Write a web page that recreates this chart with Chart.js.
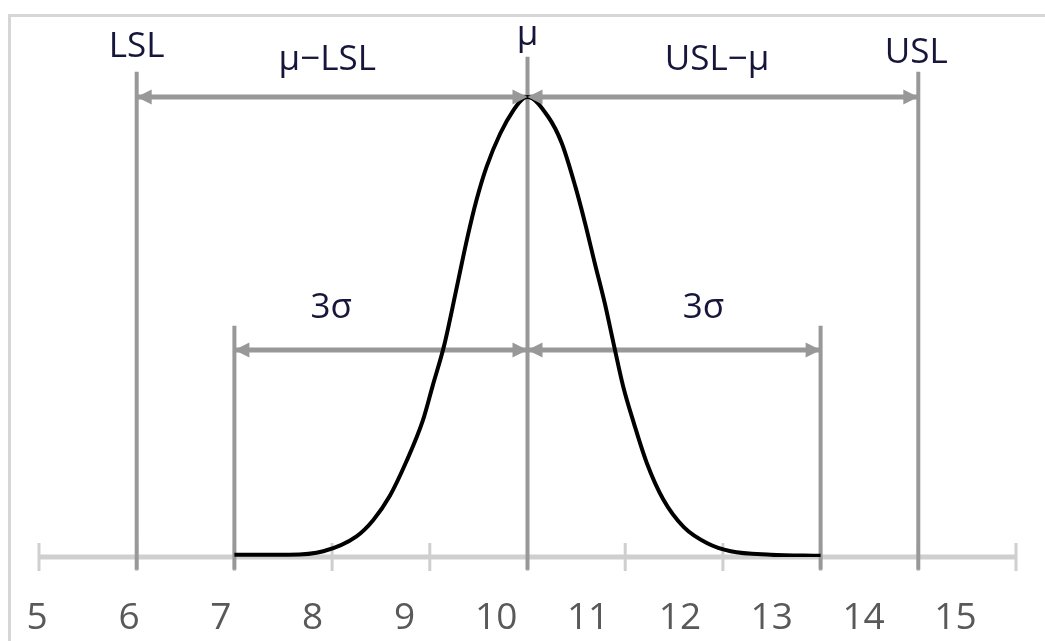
<!DOCTYPE html>
<html>
<head>
<meta charset="utf-8">
<title>Process capability sketch</title>
<script src="https://cdn.jsdelivr.net/npm/chart.js@4.4.0/dist/chart.umd.min.js"></script>
<style>
  html, body { margin:0; padding:0; background:#fff; overflow:hidden; }
  #frame { position:absolute; left:8px; top:14px; width:1100px; height:700px; border:3px solid #d6d6d6; box-sizing:border-box; }
  #wrap { position:absolute; left:0; top:0; width:1045px; height:641px; }
</style>
</head>
<body>
<div id="frame"></div>
<div id="wrap"><canvas id="chart"></canvas></div>
<script>
// curve (x value, height)
const curveX = [7.0, 7.56, 7.91, 8.25, 8.42, 8.59, 8.76, 8.93, 9.03, 9.15, 9.27, 9.38, 9.48, 9.58, 9.72, 9.86, 9.96, 10.0,
                10.21, 10.35, 10.49, 10.59, 10.69, 10.79, 10.88, 10.98, 11.09, 11.22, 11.39, 11.60, 11.84, 12.08, 12.49, 13.0];
const curveY = [0.002, 0.002, 0.005, 0.018, 0.032, 0.053, 0.083, 0.119, 0.149, 0.185, 0.232, 0.276, 0.311, 0.339, 0.368, 0.389, 0.399, 0.400,
                0.383, 0.360, 0.322, 0.290, 0.255, 0.221, 0.186, 0.148, 0.116, 0.082, 0.050, 0.026, 0.012, 0.005, 0.002, 0.001];

// axis
const tickValues = [5, 6, 7, 8, 9, 10, 11, 12, 13, 14, 15];
const tickLabels = ['5', '6', '7', '8', '9', '10', '11', '12', '13', '14', '15'];

// vertical markers: LSL, mu, USL, -3 sigma, +3 sigma
const markerX = [6, 10, 14, 7, 13];
const markerTop = [0.422, 0.435, 0.422, 0.201, 0.201];
const markerBottom = -0.011;

// double arrows [from, to, height]
const arrowFrom = [6, 10, 7, 10];
const arrowTo = [10, 14, 10, 13];
const arrowY = [0.400, 0.400, 0.180, 0.180];

// annotation texts (x value, baseline height)
const noteText = ['LSL', 'μ−LSL', 'μ', 'USL−μ', 'USL', '3σ', '3σ'];
const noteX = [6.0, 7.95, 10.0, 11.94, 13.98, 7.99, 11.80];
const noteY = [0.435, 0.4235, 0.445, 0.4235, 0.4296, 0.2078, 0.2078];

const grey = '#989898';

const datasets = [{
  data: curveX.map((x, i) => ({x, y: curveY[i]})),
  borderColor: '#000',
  borderWidth: 4,
  pointRadius: 0,
  cubicInterpolationMode: 'monotone'
}];
markerX.forEach((x, i) => datasets.push({
  data: [{x, y: markerBottom}, {x, y: markerTop[i]}],
  borderColor: grey, borderWidth: 4, pointRadius: 0, clip: false
}));
arrowFrom.forEach((a, i) => datasets.push({
  data: [{x: a, y: arrowY[i]}, {x: arrowTo[i], y: arrowY[i]}],
  borderColor: grey, borderWidth: 5, pointRadius: 0, clip: false
}));

const sketch = {
  id: 'sketch',
  beforeDatasetsDraw(chart) {
    const {ctx, scales: {x, y}} = chart;
    const y0 = y.getPixelForValue(0);
    ctx.save();
    ctx.strokeStyle = '#cfcfcf';
    ctx.lineWidth = 5;
    ctx.beginPath();
    ctx.moveTo(x.getPixelForValue(tickValues[0]), y0);
    ctx.lineTo(x.getPixelForValue(tickValues[tickValues.length - 1]), y0);
    ctx.stroke();
    ctx.lineWidth = 3;
    tickValues.forEach(v => {
      const px = x.getPixelForValue(v);
      ctx.beginPath();
      ctx.moveTo(px, y0 - 14);
      ctx.lineTo(px, y0 + 14);
      ctx.stroke();
    });
    ctx.restore();
  },
  afterDatasetsDraw(chart) {
    const {ctx, scales: {x, y}} = chart;
    ctx.save();
    ctx.fillStyle = grey;
    const head = (px, py, dir) => {
      ctx.beginPath();
      ctx.moveTo(px, py);
      ctx.lineTo(px - dir * 15, py - 7.5);
      ctx.lineTo(px - dir * 15, py + 7.5);
      ctx.closePath();
      ctx.fill();
    };
    arrowFrom.forEach((a, i) => {
      const py = y.getPixelForValue(arrowY[i]);
      head(x.getPixelForValue(a), py, -1);
      head(x.getPixelForValue(arrowTo[i]), py, 1);
    });
    ctx.fillStyle = '#16163a';
    ctx.font = '35px "Open Sans"';
    ctx.textAlign = 'center';
    ctx.textBaseline = 'alphabetic';
    noteText.forEach((t, i) => ctx.fillText(t, x.getPixelForValue(noteX[i]), y.getPixelForValue(noteY[i])));
    ctx.restore();
  }
};

new Chart(document.getElementById('chart'), {
  type: 'line',
  data: {datasets},
  options: {
    responsive: true,
    maintainAspectRatio: false,
    animation: false,
    layout: {padding: {left: 39, right: 29, top: 0, bottom: 0}},
    plugins: {legend: {display: false}, tooltip: {enabled: false}},
    scales: {
      x: {type: 'linear', min: 5, max: 15, display: false},
      x2: {
        type: 'linear', position: 'bottom', min: 5.02, max: 15.66,
        grid: {display: false, drawTicks: false}, border: {display: false},
        afterBuildTicks: s => { s.ticks = tickValues.map(v => ({value: v})); },
        afterFit: s => { s.height = 84; s.paddingLeft = 0; s.paddingRight = 0; },
        ticks: {
          autoSkip: false, maxRotation: 0, padding: 39,
          color: '#595959', font: {family: 'Open Sans', size: 37},
          callback: (v, i) => tickLabels[i]
        }
      },
      y: {type: 'linear', min: 0, max: 0.4843, display: false}
    }
  },
  plugins: [sketch]
});
</script>
</body>
</html>
